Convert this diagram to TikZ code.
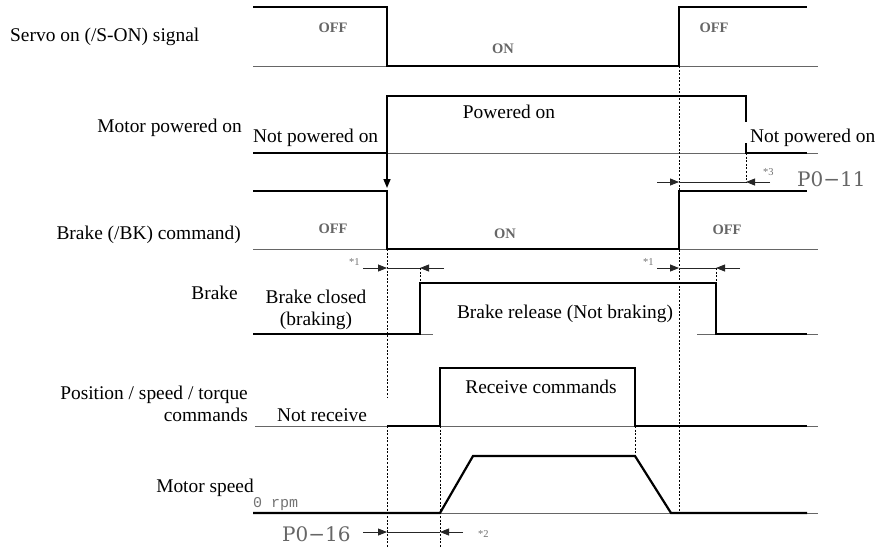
\documentclass[tikz,border=0pt]{standalone}
\usepackage{fontspec}
\setmainfont{Liberation Serif}
\newfontfamily\dvserif{DejaVu Serif}
\setmonofont{Liberation Mono}
\usetikzlibrary{arrows.meta}
\begin{document}
\begin{tikzpicture}[x=1pt,y=-1pt,
  sig/.style={line width=2.2pt, line join=miter},
  base/.style={line width=0.9pt, draw=black!60},
  dotl/.style={line width=0.9pt, dash pattern=on 2pt off 1.6pt},
  dim/.style={line width=0.8pt, draw=black!85},
  tip/.style={-{Triangle[length=9pt,width=7pt]}},
  lbl/.style={inner sep=0pt, font=\fontsize{19.4}{21}\selectfont},
  st/.style={inner sep=0pt, text=black!60, font=\fontsize{14.5}{15}\selectfont\bfseries},
  pname/.style={inner sep=0pt, text=black!60, font=\fontsize{20}{22}\dvserif},
  note/.style={inner sep=0pt, text=black!55, font=\fontsize{10.5}{11}\selectfont},
  rpm/.style={inner sep=0pt, text=black!55, font=\fontsize{15}{16}\ttfamily}]
\useasboundingbox (0,0) rectangle (877,547);

% baselines
\draw[base] (253,66) -- (818,66);
\draw[base] (253,153) -- (818,153);
\draw[base] (253,249) -- (818,249);
\draw[base] (253,334) -- (433,334);
\draw[base] (697,334) -- (818,334);
\draw[base] (255,426) -- (818,426);
\draw[base] (253,513) -- (818,513);

% dotted guide lines
\draw[dotl] (387,249) -- (387,398);
\draw[dotl] (387,426) -- (387,547);
\draw[dotl] (440,426) -- (440,547);
\draw[dotl] (679,66) -- (679,513);
\draw[dotl] (746,153) -- (746,182);
\draw[dotl] (420,268) -- (420,283);
\draw[dotl] (716,268) -- (716,283);
\draw[dotl] (635,426) -- (635,456);

% signals
\draw[sig] (253,7) -- (387,7) -- (387,66) -- (679,66) -- (679,7) -- (807,7);
\draw[sig] (253,153) -- (387,153) -- (387,96) -- (746,96) -- (746,122);
\draw[sig] (746,143) -- (746,153) -- (807,153);
\draw[line width=1.6pt,tip] (387,152) -- (387,188);
\draw[sig] (253,191) -- (387,191) -- (387,249) -- (679,249) -- (679,191) -- (807,191);
\draw[sig] (253,334) -- (420,334) -- (420,283) -- (716,283) -- (716,334) -- (807,334);
\draw[sig] (387,426) -- (440,426) -- (440,368) -- (635,368) -- (635,426) -- (807,426);
\draw[sig] (253,513) -- (440,513) -- (473,456) -- (635,456) -- (671,513) -- (807,513);

% dimension arrows
\coordinate (a1) at (679,182); \coordinate (a2) at (746,182);
\draw[dim,tip] (657,182) -- (a1);
\draw[dim] (a1) -- (a2);
\draw[dim,tip] (770,182) -- (a2);

\coordinate (b1) at (387,268); \coordinate (b2) at (420,268);
\draw[dim,tip] (363,268) -- (b1);
\draw[dim] (b1) -- (b2);
\draw[dim,tip] (444,268) -- (b2);

\coordinate (c1) at (679,268); \coordinate (c2) at (716,268);
\draw[dim,tip] (657,268) -- (c1);
\draw[dim] (c1) -- (c2);
\draw[dim,tip] (740,268) -- (c2);

\coordinate (d1) at (387,532); \coordinate (d2) at (440,532);
\draw[dim,tip] (363,532) -- (d1);
\draw[dim] (d1) -- (d2);
\draw[dim,tip] (463,532) -- (d2);

% left labels
\node[lbl,anchor=base west] (l1) at (10,41) {Servo on (/S-ON) signal};
\node[lbl,anchor=base east] (l2) at (242,132) {Motor powered on};
\node[lbl,anchor=base east] (l3) at (241,239) {Brake (/BK) command)};
\node[lbl,anchor=base east] (l4) at (238,299) {Brake};
\node[lbl,anchor=base east] (l5) at (248,399) {Position / speed / torque};
\node[lbl,anchor=base east] (l6) at (248,421) {commands};
\node[lbl,anchor=base east] (l7) at (254,492) {Motor speed};

% state labels
\node[st,anchor=base] (s1) at (333,32) {OFF};
\node[st,anchor=base] (s2) at (503,53) {ON};
\node[st,anchor=base] (s3) at (714,32) {OFF};
\node[st,anchor=base] (s4) at (333,233) {OFF};
\node[st,anchor=base] (s5) at (505,238) {ON};
\node[st,anchor=base] (s6) at (727,234) {OFF};

\node[lbl,anchor=base west] (t1) at (253,142) {Not powered on};
\node[lbl,anchor=base] (t2) at (509,118) {Powered on};
\node[lbl,anchor=base west] (t3) at (750,142) {Not powered on};
\node[lbl,anchor=base] (t4) at (316,303) {Brake closed};
\node[lbl,anchor=base] (t5) at (316,325) {(braking)};
\node[lbl,anchor=base] (t6) at (565,318) {Brake release (Not braking)};
\node[lbl,anchor=base] (t7) at (322,421) {Not receive};
\node[lbl,anchor=base] (t8) at (541,393) {Receive commands};

\node[rpm,anchor=base west] (r0) at (253,507) {0 rpm};
\node[pname,anchor=base west] (p11) at (797,186) {P0−11};
\node[pname,anchor=base west] (p16) at (282,541) {P0−16};
\node[note,anchor=base west] (n3) at (763,175) {*3};
\node[note,anchor=base west] (n1a) at (349,265) {*1};
\node[note,anchor=base west] (n1b) at (643,265) {*1};
\node[note,anchor=base west] (n2) at (478,537) {*2};
\end{tikzpicture}
\end{document}
